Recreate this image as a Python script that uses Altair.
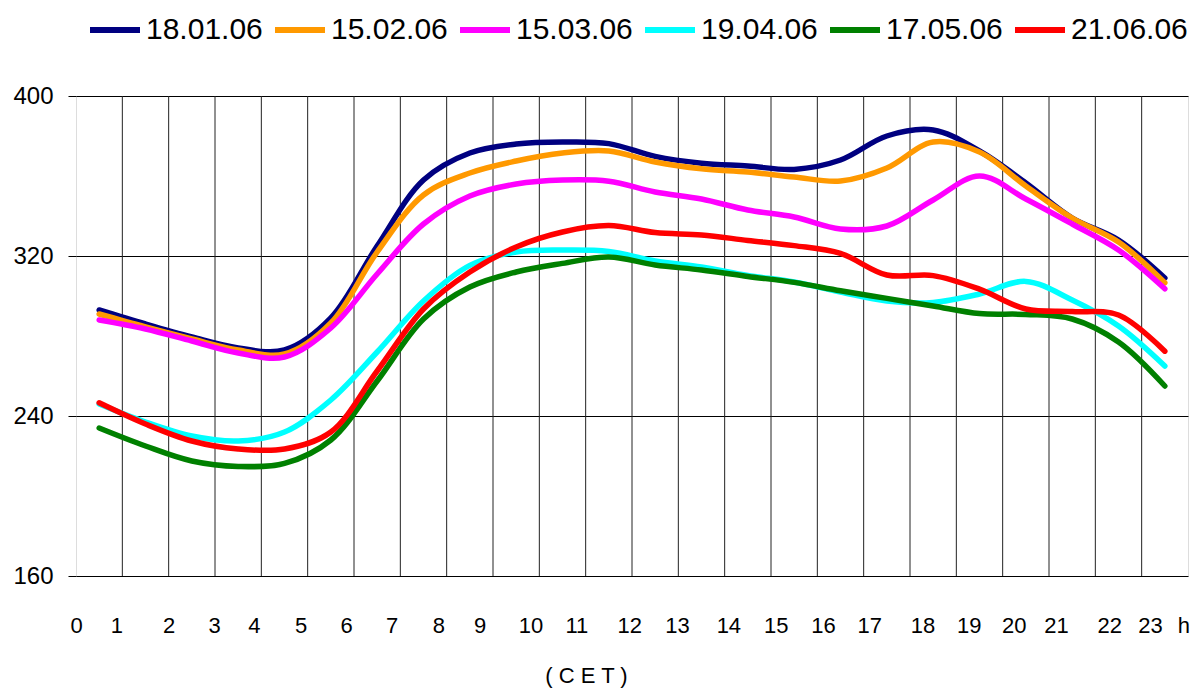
import json
import altair as alt
import pandas as pd

# ---- data ----
hours = [i + 0.5 for i in range(24)]
series_names = ["18.01.06", "15.02.06", "15.03.06", "19.04.06", "17.05.06", "21.06.06"]
series_colors = ["#000080", "#FF9900", "#FF00FF", "#00FFFF", "#008000", "#FF0000"]

v_18_01 = [293, 286, 279.5, 274, 273, 289, 325, 358, 371.5, 376, 377, 376.2,
           369.8, 366.4, 365, 363.3, 368, 380, 383, 372.5, 356.5, 339, 328, 309]
v_15_02 = [291, 284.5, 278.5, 273, 271, 286.5, 322, 350.5, 361.5, 367.5, 371.5, 372.5,
           367, 363.6, 362, 359.5, 357.5, 364, 377, 372, 355, 339, 327, 306.6]
v_15_03 = [288, 283.5, 277.5, 271.5, 269.5, 284, 311, 336, 350, 356, 358, 357.4,
           352, 348.5, 343, 339.5, 333.5, 335, 348, 360, 348.5, 336, 323, 303.6]
v_19_04 = [246, 237, 230, 227.5, 232, 248, 272, 297.5, 315.3, 322, 323, 322.3,
           317.5, 314.5, 310.3, 307, 302, 297.5, 296.8, 301, 307.3, 298, 285, 265]
v_17_05 = [234, 225, 217.5, 214.8, 216.3, 228, 257.5, 288.5, 304.5, 312, 316.3, 319.5,
           315.5, 313, 309.8, 306.8, 302.6, 298.8, 295, 291.2, 290.8, 288.5, 277, 255]
v_21_06 = [246.6, 236, 227.5, 223.5, 223.5, 232, 262.5, 293.5, 312, 324.5, 332, 335.2,
           331.7, 330.5, 327.8, 325.2, 321.3, 310.5, 310.2, 303.4, 293.5, 292.2, 290.5, 272.4]

x_tick_pos = [0, 0.87, 2.0, 2.98, 3.84, 4.85, 5.83, 6.81, 7.82, 8.71, 9.81, 10.8,
              11.94, 12.97, 14.08, 15.1, 16.12, 17.12, 18.27, 19.27, 20.24, 21.15,
              22.3, 23.18, 23.9]
x_tick_text = [str(i) for i in range(24)] + ["h"]
y_ticks = [160, 240, 320, 400]
grid_hours = list(range(1, 24))
x_title = "( C E T )"

series_values = [v_18_01, v_15_02, v_15_03, v_19_04, v_17_05, v_21_06]
rows = []
for k, (name, vals) in enumerate(zip(series_names, series_values)):
    for h, v in zip(hours, vals):
        rows.append({"hour": h, "value": v, "series": name, "order": k})
df = pd.DataFrame(rows)

FONT = "Liberation Sans, Arial"

x_scale = alt.Scale(domain=[0, 24], nice=False, zero=False)
y_scale = alt.Scale(domain=[160, 400], nice=False, zero=False)

label_expr = json.dumps(x_tick_text) + "[round(datum.value)]"

lines = alt.Chart(df).mark_line(
    strokeWidth=5.5, interpolate="catmull-rom", strokeCap="round", strokeJoin="round"
).encode(
    x=alt.X("hour:Q", scale=x_scale,
            axis=alt.Axis(values=x_tick_pos, labelExpr=label_expr, grid=False,
                          ticks=False, domain=False, labelFontSize=22,
                          labelPadding=39, labelFlush=False, labelOverlap=False,
                          labelBound=False, labelColor="black", labelFont=FONT,
                          title=x_title, titleFontSize=22, titleFont=FONT,
                          titleFontWeight="normal", titleX=510, titleY=99,
                          titleBaseline="middle", titleColor="black")),
    y=alt.Y("value:Q", scale=y_scale,
            axis=alt.Axis(values=y_ticks, grid=True, gridColor="black", gridWidth=1,
                          gridOpacity=1, tickSize=8, tickColor="black", tickWidth=1,
                          domain=False, labelFontSize=24, labelPadding=15,
                          labelColor="black", labelFont=FONT, title=None)),
    color=alt.Color("series:N",
                    scale=alt.Scale(domain=series_names, range=series_colors),
                    sort=series_names,
                    legend=alt.Legend(title=None, orient="none", direction="horizontal",
                                      legendX=11, legendY=-94, symbolType="stroke",
                                      symbolSize=2500, symbolStrokeWidth=6,
                                      labelFontSize=30, labelFont=FONT, labelColor="black",
                                      labelOffset=3, columnPadding=0, padding=0)),
    order=alt.Order("order:Q"),
)

grid_df = pd.DataFrame({"h": grid_hours})
vrules = alt.Chart(grid_df).mark_rule(color="#222222", strokeWidth=1).encode(
    x=alt.X("h:Q", scale=x_scale)
)

chart = alt.layer(vrules, lines).properties(
    width=1112, height=480,
    autosize=alt.AutoSizeParams(type="none"),
    padding={"left": 68, "top": 88, "right": 3, "bottom": 112},
).configure_view(stroke="black", strokeWidth=1).configure(background="white")

chart.save("out.html", embed_options={"renderer": "svg", "actions": False})
